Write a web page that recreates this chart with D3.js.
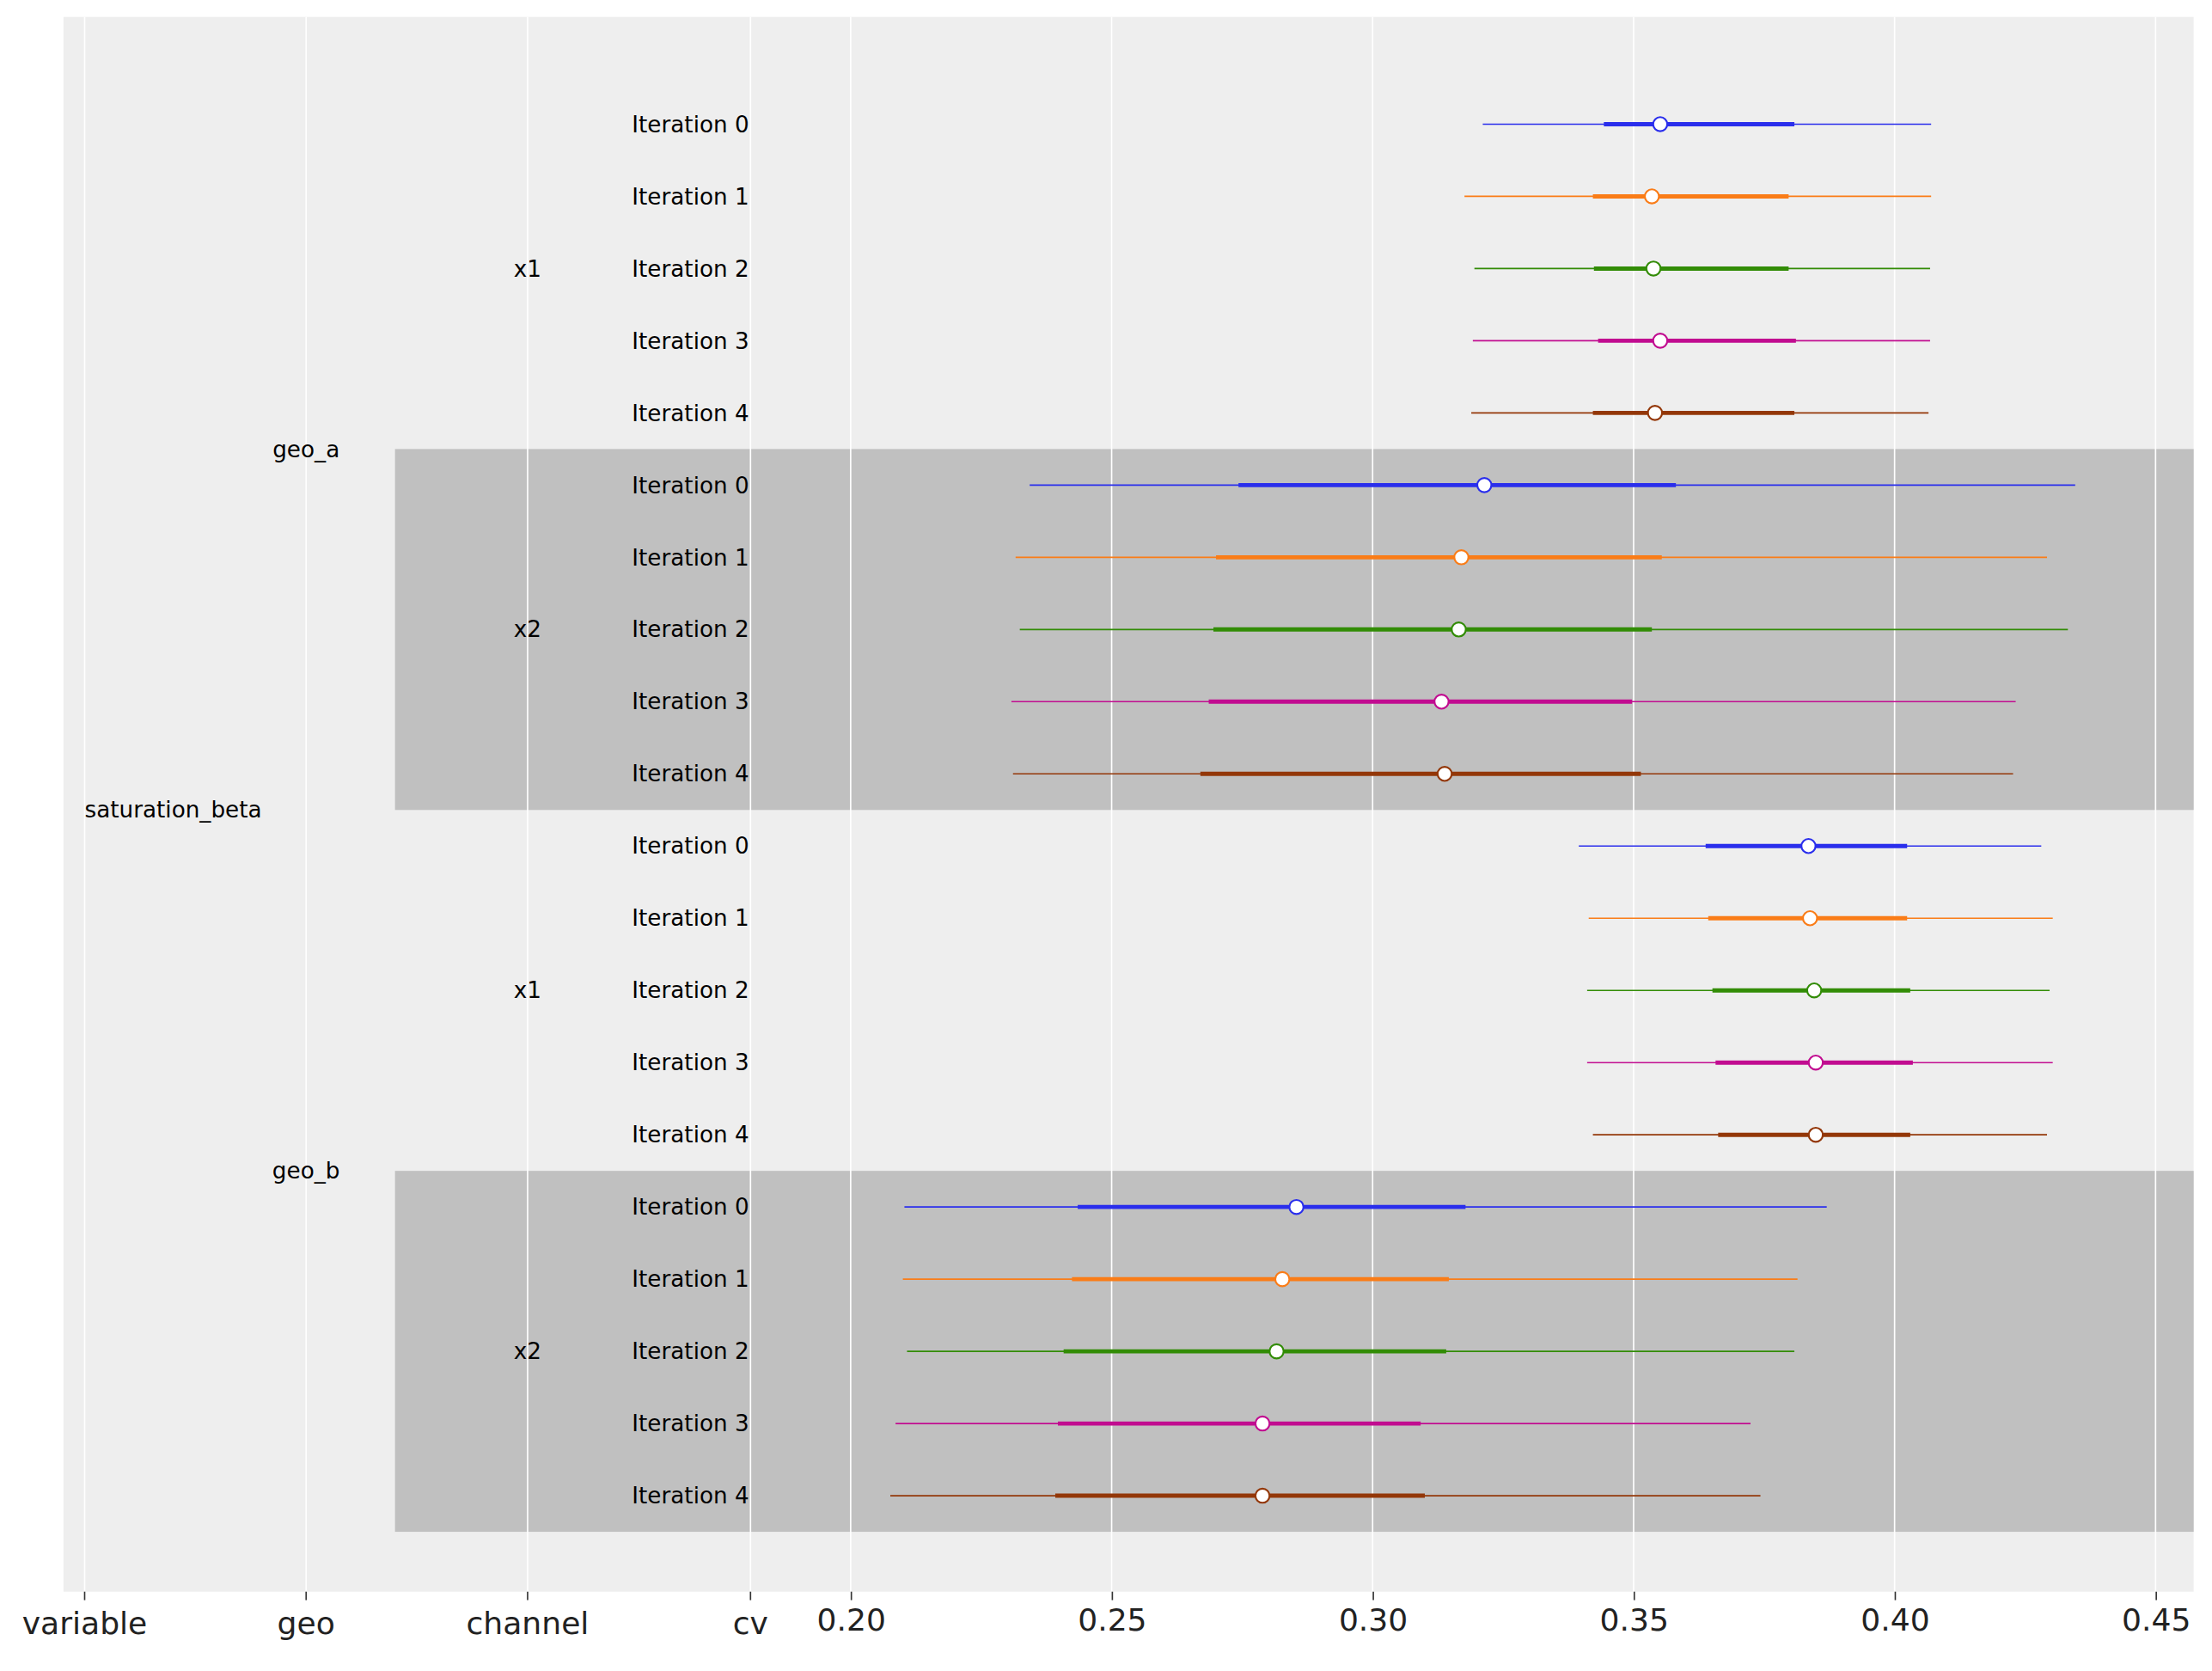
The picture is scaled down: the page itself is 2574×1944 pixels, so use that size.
<!DOCTYPE html>
<html lang="en">
<head>
<meta charset="UTF-8">
<title>Forest plot</title>
<script src="https://cdn.jsdelivr.net/npm/d3@7"></script>
<style>
  body { margin: 0; background: #fff; font-family: "DejaVu Sans", sans-serif; }
</style>
</head>
<body>
<div id="chart"></div>
<script>
const geos = ['geo_a', 'geo_b'];
const channels = ['x1', 'x2'];
const iterations = ['Iteration 0', 'Iteration 1', 'Iteration 2', 'Iteration 3', 'Iteration 4'];
const colors = ['#2a2eec', '#fa7c17', '#328c06', '#c10c90', '#933708'];
const xTicks = [0.20, 0.25, 0.30, 0.35, 0.40, 0.45];
const colLabels = ['variable', 'geo', 'channel', 'cv'];

// [low, q25, median, q75, high] per iteration
const geoA_x1 = [
  [0.3211, 0.3443, 0.3551, 0.3808, 0.4070],
  [0.3176, 0.3422, 0.3535, 0.3797, 0.4070],
  [0.3195, 0.3424, 0.3538, 0.3797, 0.4068],
  [0.3192, 0.3432, 0.3551, 0.3811, 0.4068],
  [0.3189, 0.3422, 0.3541, 0.3808, 0.4065]];
const geoA_x2 = [
  [0.2343, 0.2743, 0.3214, 0.3581, 0.4346],
  [0.2316, 0.2700, 0.3170, 0.3554, 0.4292],
  [0.2324, 0.2695, 0.3165, 0.3535, 0.4332],
  [0.2308, 0.2686, 0.3132, 0.3497, 0.4232],
  [0.2311, 0.2670, 0.3138, 0.3514, 0.4227]];
const geoB_x1 = [
  [0.3395, 0.3638, 0.3835, 0.4024, 0.4281],
  [0.3414, 0.3643, 0.3838, 0.4024, 0.4303],
  [0.3411, 0.3651, 0.3846, 0.4030, 0.4297],
  [0.3411, 0.3657, 0.3849, 0.4035, 0.4303],
  [0.3422, 0.3662, 0.3849, 0.4030, 0.4292]];
const geoB_x2 = [
  [0.2103, 0.2435, 0.2854, 0.3178, 0.3870],
  [0.2100, 0.2424, 0.2827, 0.3146, 0.3814],
  [0.2108, 0.2408, 0.2816, 0.3141, 0.3808],
  [0.2086, 0.2397, 0.2789, 0.3092, 0.3724],
  [0.2076, 0.2392, 0.2789, 0.3100, 0.3743]];
const groups = [geoA_x1, geoA_x2, geoB_x1, geoB_x2];

const W = 2574, H = 1944;
const svg = d3.select('#chart').append('svg').attr('width', W).attr('height', H);

// layout measured on a 1568-wide copy, scaled up to the page
const s = W / 1568;
const g = svg.append('g').attr('transform', `scale(${s})`);
const pLeft = 45, pRight = 1555, pTop = 12, pBottom = 1128;

const x = d3.scaleLinear().domain([0.20, 0.45]).range([603, 1528]);
const colX = [60, 217, 374, 532];

const rows = [];
groups.forEach((grp, gi) => grp.forEach((d, k) => rows.push({ gi, k, d })));
const y = d3.scaleLinear().domain([0, rows.length - 1]).range([88, 1060]);
const step = y(1) - y(0);

g.append('rect').attr('x', pLeft).attr('y', pTop).attr('width', pRight - pLeft).attr('height', pBottom - pTop).attr('fill', '#eeeeee');

// shaded bands for x2 groups
[1, 3].forEach(gi => {
  g.append('rect')
    .attr('x', 280).attr('width', pRight - 280)
    .attr('y', y(gi * 5) - step / 2).attr('height', step * 5)
    .attr('fill', '#c0c0c0');
});

// vertical grid lines
colX.concat(xTicks.map(x)).forEach(px => {
  g.append('line').attr('x1', px).attr('x2', px).attr('y1', pTop).attr('y2', pBottom)
    .attr('stroke', '#ffffff').attr('stroke-width', 1);
});

// ticks and labels
const tickG = g.append('g');
colLabels.forEach((t, i) => {
  tickG.append('line').attr('x1', colX[i]).attr('x2', colX[i]).attr('y1', pBottom).attr('y2', pBottom + 6).attr('stroke', '#333');
  tickG.append('text').attr('x', colX[i]).attr('y', pBottom + 30).attr('text-anchor', 'middle')
    .attr('font-size', 22).attr('fill', '#222').text(t);
});
const axis = d3.axisBottom(x).tickValues(xTicks).tickFormat(d3.format('.2f')).tickSize(6).tickPadding(6);
const ax = g.append('g').attr('transform', `translate(0,${pBottom})`).call(axis);
ax.select('.domain').remove();
ax.selectAll('text').attr('font-size', 22).attr('fill', '#222').attr('font-family', 'DejaVu Sans');
ax.selectAll('line').attr('stroke', '#333');

// row labels
const lab = g.append('g').attr('fill', '#000');
rows.forEach((r, i) => {
  lab.append('text').attr('x', 531).attr('y', y(i)).attr('dy', '0.35em')
    .attr('text-anchor', 'end').attr('font-size', 16).text(iterations[r.k]);
});
groups.forEach((grp, gi) => {
  lab.append('text').attr('x', 374).attr('y', y(gi * 5 + 2)).attr('dy', '0.35em')
    .attr('text-anchor', 'middle').attr('font-size', 16).text(channels[gi % 2]);
});
geos.forEach((geo, i) => {
  lab.append('text').attr('x', 217).attr('y', (y(i * 10) + y(i * 10 + 9)) / 2).attr('dy', '0.35em')
    .attr('text-anchor', 'middle').attr('font-size', 16).text(geo);
});
lab.append('text').attr('x', 60).attr('y', (y(0) + y(19)) / 2).attr('dy', '0.35em')
  .attr('font-size', 16).text('saturation_beta');

// intervals
const marks = g.append('g');
rows.forEach((r, i) => {
  const c = colors[r.k], yy = y(i), d = r.d;
  marks.append('line').attr('x1', x(d[0])).attr('x2', x(d[4])).attr('y1', yy).attr('y2', yy)
    .attr('stroke', c).attr('stroke-width', 1);
  marks.append('line').attr('x1', x(d[1])).attr('x2', x(d[3])).attr('y1', yy).attr('y2', yy)
    .attr('stroke', c).attr('stroke-width', 3);
  marks.append('circle').attr('cx', x(d[2])).attr('cy', yy).attr('r', 5)
    .attr('fill', '#ffffff').attr('stroke', c).attr('stroke-width', 1.3);
});
</script>
</body>
</html>
